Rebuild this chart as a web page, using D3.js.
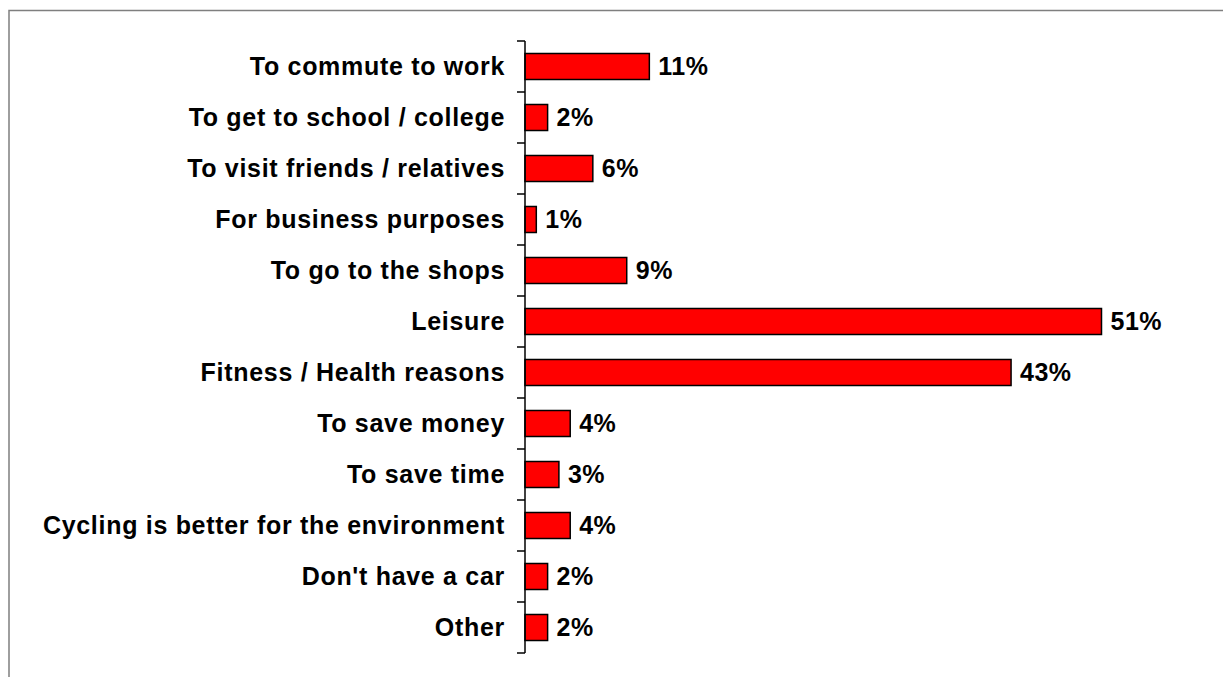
<!DOCTYPE html>
<html>
<head>
<meta charset="utf-8">
<script src="https://cdn.jsdelivr.net/npm/d3@7"></script>
<style>
  html, body { margin: 0; padding: 0; background: #fff; }
  svg { display: block; }
  text { font-family: Arial, "Liberation Sans", sans-serif; font-weight: bold; fill: #000; }
</style>
</head>
<body>
<svg id="chart" width="1223" height="677"></svg>
<script>
const categories = [
  "To commute to work",
  "To get to school / college",
  "To visit friends / relatives",
  "For business purposes",
  "To go to the shops",
  "Leisure",
  "Fitness / Health reasons",
  "To save money",
  "To save time",
  "Cycling is better for the environment",
  "Don't have a car",
  "Other"
];
const values = [11, 2, 6, 1, 9, 51, 43, 4, 3, 4, 2, 2];
const valueLabels = ["11%", "2%", "6%", "1%", "9%", "51%", "43%", "4%", "3%", "4%", "2%", "2%"];

const svg = d3.select("#chart");

// outer frame
svg.append("rect")
  .attr("x", 9).attr("y", 10.5)
  .attr("width", 1240).attr("height", 700)
  .attr("fill", "none").attr("stroke", "#7f7f7f").attr("stroke-width", 1.5);

const axisX = 525, plotTop = 41, plotBottom = 653;
const x = d3.scaleLinear().domain([0, 51]).range([axisX, 1101.5]);
const y = d3.scaleBand().domain(categories).range([plotTop, plotBottom]).paddingInner(0.49).paddingOuter(0.245);
const yb = d3.scaleBand().domain(categories).range([plotTop, plotBottom]);

// bars
svg.append("g").selectAll("rect")
  .data(values)
  .join("rect")
  .attr("x", x(0))
  .attr("y", (d, i) => y(categories[i]))
  .attr("width", d => x(d) - x(0))
  .attr("height", y.bandwidth())
  .attr("fill", "#ff0000")
  .attr("stroke", "#000")
  .attr("stroke-width", 1.5);

// axis line and ticks
const ax = svg.append("g");
ax.append("line")
  .attr("x1", axisX).attr("x2", axisX).attr("y1", plotTop).attr("y2", plotBottom)
  .attr("stroke", "#000").attr("stroke-width", 1.5);
const tickYs = categories.map(c => yb(c)).concat([plotBottom]);
ax.selectAll("line.tick").data(tickYs).join("line")
  .attr("class", "tick")
  .attr("x1", axisX - 8).attr("x2", axisX)
  .attr("y1", d => d).attr("y2", d => d)
  .attr("stroke", "#000").attr("stroke-width", 1.5);

// category labels
svg.append("g").selectAll("text")
  .data(categories)
  .join("text")
  .attr("x", 505)
  .attr("y", d => yb(d) + yb.bandwidth() / 2)
  .attr("dy", "0.32em")
  .attr("text-anchor", "end")
  .style("font-size", "25px")
  .style("letter-spacing", "0.7px")
  .text(d => d);

// value labels
svg.append("g").selectAll("text")
  .data(values)
  .join("text")
  .attr("x", d => x(d) + 9)
  .attr("y", (d, i) => yb(categories[i]) + yb.bandwidth() / 2)
  .attr("dy", "0.32em")
  .style("font-size", "25px")
  .style("letter-spacing", "0.5px")
  .text((d, i) => valueLabels[i]);
</script>
</body>
</html>
